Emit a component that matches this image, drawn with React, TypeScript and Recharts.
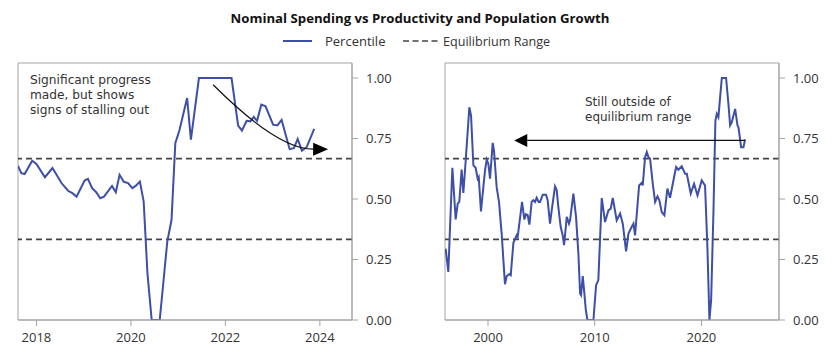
import React from "react";
import {
  LineChart,
  Line,
  XAxis,
  YAxis,
  ReferenceLine,
  ReferenceArea,
} from "recharts";

// ---------- DATA ----------
const title = "Nominal Spending vs Productivity and Population Growth";
const seriesName = "Percentile";
const rangeName = "Equilibrium Range";
const equilibriumLow = 1 / 3;
const equilibriumHigh = 2 / 3;
const yTicks = [0, 0.25, 0.5, 0.75, 1];

// Left panel (recent)
const recentYears = [
  2017.61, 2017.68, 2017.75, 2017.91, 2018.0, 2018.18, 2018.34, 2018.53, 2018.67, 2018.76,
  2018.85, 2019.02, 2019.09, 2019.18, 2019.27, 2019.35, 2019.43, 2019.6, 2019.68, 2019.76,
  2019.85, 2019.94, 2020.03, 2020.1, 2020.19, 2020.27, 2020.35, 2020.44, 2020.61, 2020.77,
  2020.86, 2020.94, 2021.03, 2021.19, 2021.27, 2021.44, 2022.13, 2022.27, 2022.35, 2022.45,
  2022.53, 2022.6, 2022.67, 2022.76, 2022.85, 2023.01, 2023.1, 2023.19, 2023.36, 2023.45,
  2023.53, 2023.62, 2023.72, 2023.88,
];
const recentValues = [
  0.637, 0.607, 0.603, 0.658, 0.645, 0.59, 0.628, 0.566, 0.534, 0.524,
  0.51, 0.576, 0.583, 0.545, 0.527, 0.503, 0.51, 0.554, 0.528, 0.6,
  0.571, 0.566, 0.545, 0.554, 0.572, 0.49, 0.193, 0, 0, 0.324,
  0.414, 0.731, 0.786, 0.917, 0.745, 1.0, 1.0, 0.803, 0.783, 0.823,
  0.821, 0.839, 0.823, 0.89, 0.883, 0.807, 0.804, 0.827, 0.706, 0.71,
  0.748, 0.7, 0.714, 0.79,
];
const recentTicks = [2018, 2020, 2022, 2024];
const recentDomain = [2017.61, 2024.68];

// Right panel (history)
const historyYears = [
  1996.03, 1996.28, 1996.66, 1996.97, 1997.16, 1997.31, 1997.53, 1997.69, 1997.91, 1998.25,
  1998.41, 1998.63, 1998.84, 1999.03, 1999.13, 1999.34, 1999.72, 1999.88, 2000.03, 2000.19,
  2000.44, 2000.56, 2000.81, 2001.03, 2001.28, 2001.59, 2001.75, 2002.0, 2002.13, 2002.38,
  2002.69, 2002.78, 2003.19, 2003.41, 2003.56, 2003.72, 2003.88, 2004.09, 2004.25, 2004.41,
  2004.56, 2004.75, 2004.88, 2005.13, 2005.44, 2005.59, 2005.81, 2005.97, 2006.28, 2006.44,
  2006.59, 2006.81, 2007.0, 2007.13, 2007.38, 2007.59, 2007.69, 2008.0, 2008.25, 2008.47,
  2008.63, 2008.72, 2008.88, 2009.03, 2009.16, 2009.31, 2009.88, 2010.13, 2010.34, 2010.66,
  2010.97, 2011.28, 2011.5, 2011.69, 2012.06, 2012.38, 2012.63, 2012.94, 2013.16, 2013.47,
  2013.63, 2013.78, 2014.16, 2014.41, 2014.5, 2014.72, 2014.88, 2015.03, 2015.19, 2015.44,
  2015.66, 2015.88, 2016.06, 2016.28, 2016.53, 2016.81, 2017.06, 2017.44, 2017.63, 2017.84,
  2018.16, 2018.47, 2018.63, 2019.0, 2019.31, 2019.63, 2020.03, 2020.34, 2020.56, 2020.75,
  2020.91, 2021.13, 2021.31, 2021.44, 2021.59, 2021.91, 2022.31, 2022.53, 2022.69, 2022.84,
  2023.16, 2023.38, 2023.47, 2023.72, 2023.94, 2024.09,
];
const historyValues = [
  0.295, 0.199, 0.629, 0.416, 0.481, 0.488, 0.622, 0.525, 0.659, 0.879,
  0.845, 0.639, 0.629, 0.584, 0.591, 0.449, 0.618, 0.663, 0.646, 0.584,
  0.732, 0.701, 0.549, 0.488, 0.357, 0.148, 0.181, 0.19, 0.185, 0.319,
  0.35, 0.343, 0.488, 0.415, 0.437, 0.433, 0.394, 0.488, 0.495, 0.488,
  0.505, 0.488, 0.488, 0.518, 0.518, 0.495, 0.398, 0.453, 0.552, 0.536,
  0.467, 0.385, 0.35, 0.309, 0.426, 0.398, 0.412, 0.522, 0.426, 0.275,
  0.11, 0.103, 0.181, 0.11, 0.044, 0, 0, 0.144, 0.165, 0.504,
  0.405, 0.453, 0.46, 0.504, 0.412, 0.44, 0.398, 0.284, 0.357, 0.385,
  0.398, 0.35, 0.556, 0.567, 0.556, 0.673, 0.694, 0.673, 0.666, 0.563,
  0.488, 0.511, 0.495, 0.446, 0.433, 0.543, 0.505, 0.591, 0.632, 0.621,
  0.635, 0.604, 0.604, 0.522, 0.563, 0.515, 0.577, 0.556, 0.302, 0,
  0.082, 0.453, 0.824, 0.852, 0.838, 1.0, 1.0, 0.893, 0.804, 0.817,
  0.872, 0.804, 0.797, 0.714, 0.714, 0.746,
];
const historyTicks = [2000, 2010, 2020];
const historyDomain = [1995.97, 2027.27];

// Annotation anchors (data coordinates)
const recentNote = ["Significant progress", "made, but shows", "signs of stalling out"];
const recentArrow = [
  { x: 2021.74, y: 0.972 },
  { x: 2024.175, y: 0.706 },
];
const historyNote = ["Still outside of", "equilibrium range"];
const historyArrow = [
  { x: 2002.46, y: 0.742 },
  { x: 2024.09, y: 0.742 },
];

// ---------- STYLE ----------
const FONT = '"Open Sans", sans-serif';
const NOTE_FONT = '"DejaVu Sans", sans-serif';
const BLUE = "#3d4fa6";
const DASH = "#444444";
const AXIS = "#a3a3a3";
const TEXT = "#333333";
const Y_MAX = 1.062;

const CurvedArrow = (p: any) => {
  const { x1, y1, x2, y2 } = p;
  const head = 15;
  const half = 6.5;
  const ex = x2 - head;
  const cx = x1 + (y2 - y1);
  return (
    <g>
      <path
        d={`M${x1},${y1} Q${cx},${y2} ${ex},${y2}`}
        fill="none"
        stroke="#111"
        strokeWidth={1.2}
      />
      <polygon points={`${x2},${y2} ${ex},${y2 - half} ${ex},${y2 + half}`} fill="#000" />
    </g>
  );
};

const LeftArrow = (p: any) => {
  const { x1, y1, x2, y2 } = p;
  const head = 13;
  const half = 6.5;
  const bx = x1 + head;
  return (
    <g>
      <line x1={bx} y1={y1} x2={x2} y2={y2} stroke="#111" strokeWidth={1.2} />
      <polygon points={`${x1},${y1} ${bx},${y1 - half} ${bx},${y1 + half}`} fill="#000" />
    </g>
  );
};

type PanelProps = {
  years: number[];
  values: number[];
  domain: number[];
  ticks: number[];
  left: number;
  marginLeft: number;
  yWidth: number;
  arrow: { x: number; y: number }[];
  arrowShape: (p: any) => React.ReactElement;
};

function Panel(props: PanelProps) {
  const data = props.years.map((x, i) => ({ x, v: props.values[i] }));
  const tickStyle = { fontFamily: FONT, fontSize: 13, fill: TEXT };
  return (
    <div style={{ position: "absolute", left: props.left, top: 0 }}>
      <LineChart
        width={420}
        height={357}
        data={data}
        margin={{ top: 63, right: 0, bottom: 0, left: props.marginLeft }}
      >
        <ReferenceArea
          x1={props.domain[0]}
          x2={props.domain[1]}
          y1={0}
          y2={Y_MAX}
          fill="none"
          stroke={AXIS}
          strokeWidth={1}
          ifOverflow="visible"
        />
        <XAxis
          dataKey="x"
          type="number"
          domain={props.domain}
          ticks={props.ticks}
          allowDataOverflow
          height={37}
          tickSize={6}
          tickMargin={7}
          stroke={AXIS}
          tick={tickStyle}
          tickLine={{ stroke: AXIS }}
          axisLine={{ stroke: AXIS }}
        />
        <YAxis
          orientation="right"
          type="number"
          domain={[0, Y_MAX]}
          ticks={yTicks}
          allowDataOverflow
          width={props.yWidth}
          tickSize={6}
          tickMargin={8}
          tickFormatter={(v: number) => v.toFixed(2)}
          tick={tickStyle}
          tickLine={{ stroke: AXIS }}
          axisLine={{ stroke: AXIS }}
        />
        <ReferenceLine y={equilibriumHigh} stroke={DASH} strokeWidth={1.7} strokeDasharray="6 4" />
        <ReferenceLine y={equilibriumLow} stroke={DASH} strokeWidth={1.7} strokeDasharray="6 4" />
        <Line
          type="linear"
          dataKey="v"
          stroke={BLUE}
          strokeWidth={2}
          dot={false}
          isAnimationActive={false}
        />
        <ReferenceLine
          segment={props.arrow}
          ifOverflow="visible"
          shape={props.arrowShape}
        />
      </LineChart>
    </div>
  );
}

export default function App() {
  return (
    <div
      style={{
        position: "absolute",
        left: 0,
        top: 0,
        width: 840,
        height: 357,
        background: "#fff",
        fontFamily: FONT,
        overflow: "hidden",
      }}
    >
      <Panel
        years={recentYears}
        values={recentValues}
        domain={recentDomain}
        ticks={recentTicks}
        left={0}
        marginLeft={18}
        yWidth={68}
        arrow={recentArrow}
        arrowShape={CurvedArrow}
      />
      <Panel
        years={historyYears}
        values={historyValues}
        domain={historyDomain}
        ticks={historyTicks}
        left={420}
        marginLeft={25}
        yWidth={61}
        arrow={historyArrow}
        arrowShape={LeftArrow}
      />
      <svg
        width={840}
        height={357}
        style={{ position: "absolute", left: 0, top: 0, pointerEvents: "none" }}
      >
        <text
          x={420}
          y={23}
          textAnchor="middle"
          fontFamily={FONT}
          fontSize={13.2}
          fontWeight={700}
          fill="#111"
        >
          {title}
        </text>
        <line x1={283} y1={41} x2={312} y2={41} stroke={BLUE} strokeWidth={2} />
        <text x={325} y={45.5} fontFamily={FONT} fontSize={13} fill={TEXT}>
          {seriesName}
        </text>
        <line
          x1={403}
          y1={41}
          x2={438}
          y2={41}
          stroke={DASH}
          strokeWidth={1.7}
          strokeDasharray="6 3.5"
        />
        <text x={443} y={45.5} fontFamily={FONT} fontSize={12.6} fill={TEXT}>
          {rangeName}
        </text>
        {recentNote.map((s, i) => (
          <text
            key={s}
            x={30}
            y={84 + i * 15}
            fontFamily={NOTE_FONT}
            fontSize={12.2}
            fill={TEXT}
          >
            {s}
          </text>
        ))}
        {historyNote.map((s, i) => (
          <text
            key={s}
            x={585}
            y={106 + i * 14.6}
            fontFamily={NOTE_FONT}
            fontSize={12}
            fill={TEXT}
          >
            {s}
          </text>
        ))}
      </svg>
    </div>
  );
}
